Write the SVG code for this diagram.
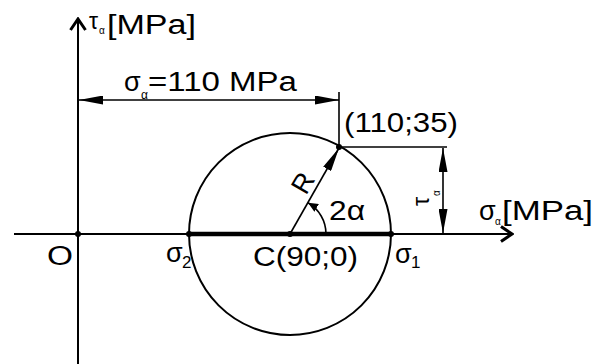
<svg xmlns="http://www.w3.org/2000/svg" width="596" height="364" viewBox="0 0 596 364">
<style>
text{font-family:"Liberation Sans",Arial,sans-serif;fill:#000}
.lbl{font-size:27px}
.sub{font-size:12px}
.ax{stroke:#000;stroke-width:2;fill:none}
.dim{stroke:#000;stroke-width:1.6;fill:none}
.dot{fill:#000}
</style>
<defs>
<marker id="fa" markerUnits="userSpaceOnUse" viewBox="0 0 24 9" refX="24" refY="4.5" markerWidth="24" markerHeight="9" orient="auto-start-reverse">
<path d="M0,0 L24,4.5 L0,9 z" fill="#000"/>
</marker>
<marker id="sa" markerUnits="userSpaceOnUse" viewBox="0 0 10 9" refX="10" refY="4.5" markerWidth="10" markerHeight="9" orient="auto">
<path d="M0,0 L10,4.5 L0,9 z" fill="#000"/>
</marker>
<marker id="ch" markerUnits="userSpaceOnUse" viewBox="0 0 14 18" refX="12" refY="9" markerWidth="14" markerHeight="18" orient="auto">
<path d="M1,1.5 L12,9 L1,16.5" fill="none" stroke="#000" stroke-width="3"/>
</marker>
</defs>
<g id="connectors">
<line class="ax" x1="78" y1="364" x2="78" y2="19" marker-end="url(#ch)"/>
<line class="ax" x1="14" y1="234" x2="512" y2="234" marker-end="url(#ch)"/>
<line x1="189" y1="234" x2="391" y2="234" stroke="#000" stroke-width="4.5"/>
<circle class="ax" cx="290" cy="234" r="101"/>
<line class="dim" x1="79" y1="100" x2="339" y2="100" marker-start="url(#fa)" marker-end="url(#fa)"/>
<line class="dim" x1="339" y1="92" x2="339" y2="148"/>
<line class="dim" x1="339" y1="147" x2="447" y2="147"/>
<line class="dim" x1="443" y1="148" x2="443" y2="233" marker-start="url(#fa)" marker-end="url(#fa)"/>
<line class="dim" x1="290" y1="234" x2="339" y2="148" marker-end="url(#fa)"/>
<path class="dim" d="M326,234 A36,36 0 0 0 308,202.8" marker-end="url(#sa)"/>
</g>
<g id="points">
<circle class="dot" cx="78" cy="234" r="3"/>
<circle class="dot" cx="189" cy="234" r="3"/>
<circle class="dot" cx="290" cy="234" r="3"/>
<circle class="dot" cx="391" cy="234" r="3"/>
<circle class="dot" cx="339" cy="147" r="3"/>
</g>
<g id="label-tau-axis">
<text x="89" y="29" font-size="23">τ</text>
<text x="99" y="34" font-size="10">α</text>
<text class="lbl" x="107" y="34" textLength="89" lengthAdjust="spacingAndGlyphs">[MPa]</text>
</g>
<g id="label-sigma-alpha">
<text class="lbl" x="124" y="91">σ</text>
<text class="sub" x="141" y="99">α</text>
<text class="lbl" x="148" y="91" textLength="149" lengthAdjust="spacingAndGlyphs">=110 MPa</text>
</g>
<g id="label-point">
<text class="lbl" x="344" y="132" textLength="114" lengthAdjust="spacingAndGlyphs">(110;35)</text>
</g>
<g id="label-sigma-axis">
<text class="lbl" x="479" y="220">σ</text>
<text x="495" y="225" font-size="10">α</text>
<text class="lbl" x="502" y="220" textLength="91" lengthAdjust="spacingAndGlyphs">[MPa]</text>
</g>
<g id="label-O">
<text class="lbl" x="47" y="265" textLength="26" lengthAdjust="spacingAndGlyphs">O</text>
</g>
<g id="label-sigma2">
<text class="lbl" x="166" y="262">σ</text>
<text x="182" y="268" font-size="17">2</text>
</g>
<g id="label-C">
<text class="lbl" x="253" y="266" textLength="105" lengthAdjust="spacingAndGlyphs">C(90;0)</text>
</g>
<g id="label-sigma1">
<text class="lbl" x="395" y="263">σ</text>
<text x="411" y="268" font-size="17">1</text>
</g>
<g id="label-2alpha">
<text class="lbl" x="329" y="220" textLength="36" lengthAdjust="spacingAndGlyphs">2α</text>
</g>
<g id="label-R">
<text class="lbl" transform="translate(303,183) rotate(-60)" x="0" y="9" text-anchor="middle">R</text>
</g>
<g id="label-tau">
<text transform="translate(429,206) rotate(-90)" x="0" y="0" font-size="23">τ</text>
<text transform="translate(429,206) rotate(-90)" x="10" y="11" font-size="10">α</text>
</g>
</svg>
